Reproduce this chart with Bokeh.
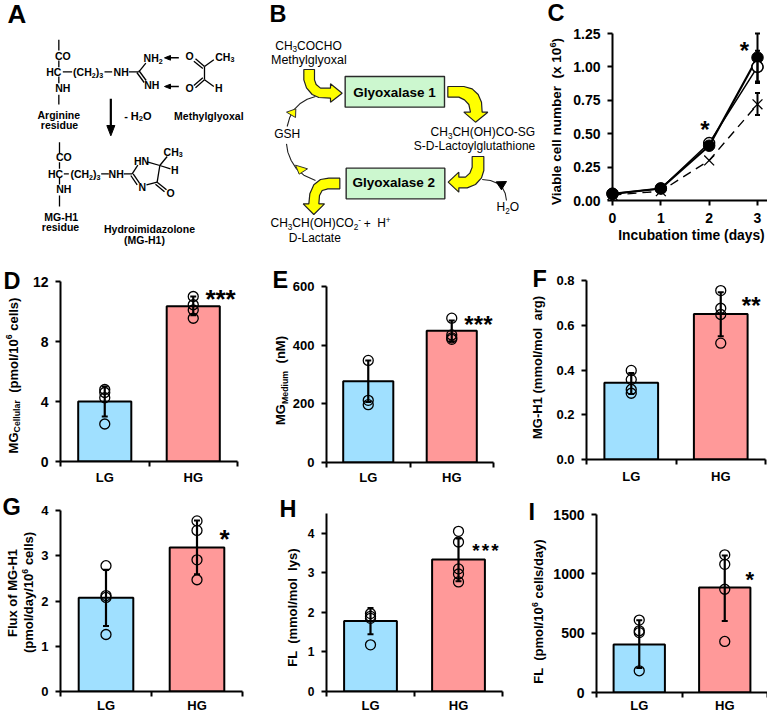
from math import pi
from bokeh.plotting import figure
from bokeh.models import (Range1d, Label, FixedTicker, NumeralTickFormatter, Whisker,
                          ColumnDataSource, TeeHead)
from bokeh.embed import file_html
from bokeh.resources import INLINE

FONT = "Liberation Sans"
BLUE = "#A0E0FF"
PINK = "#FF9999"
GREEN = "#CCF7CF"
YELLOW = "#FFFF00"

# ---------- data: bar panels ----------
groups = ["LG", "HG"]
d_means = [4.0, 10.35]; d_upper = [5.0, 11.0]; d_lower = [3.0, 9.75]
d_lg = [4.8, 4.6, 4.25, 2.5]; d_hg = [11.0, 10.45, 10.1, 9.55]
e_means = [277, 449]; e_upper = [348, 484]; e_lower = [206, 413]
e_lg = [348, 212, 197]; e_hg = [492, 435, 425, 420]
f_means = [0.343, 0.65]; f_upper = [0.387, 0.748]; f_lower = [0.293, 0.551]
f_lg = [0.398, 0.357, 0.313, 0.296]; f_hg = [0.755, 0.676, 0.648, 0.52]
g_means = [2.07, 3.18]; g_upper = [2.69, 3.78]; g_lower = [1.45, 2.59]
g_lg = [2.78, 2.12, 2.08, 1.26]; g_hg = [3.77, 3.56, 2.91, 2.47]
h_means = [1.78, 3.34]; h_upper = [2.11, 3.87]; h_lower = [1.45, 2.79]
h_lg = [1.97, 1.9, 1.85, 1.18]; h_hg = [4.05, 3.78, 3.1, 2.97, 2.77]
i_means = [405, 885]; i_upper = [608, 1155]; i_lower = [207, 603]
i_lg = [610, 520, 505, 183]; i_hg = [1160, 1080, 870, 430]

# ---------- data: panel C ----------
days = [0, 1, 2, 3]
filled_cells = [0.05, 0.09, 0.41, 1.07]
open_cells = [0.05, 0.09, 0.43, 1.0]
cross_cells = [0.04, 0.07, 0.30, 0.72]
err_upper_c = [1.25, 1.12, 0.805]
err_lower_c = [0.89, 0.88, 0.64]
err_x_c = [3, 3, 3]

# ---------- text metrics (Arial-compatible advance widths) ----------
REG = dict(zip("ABCDEFGHIJKLMNOPQRSTUVWXYZ", [.667,.667,.722,.722,.667,.611,.778,.722,.278,.5,.667,.556,.833,.722,.778,.667,.778,.722,.667,.611,.722,.667,.944,.667,.667,.611]))
REG.update(zip("abcdefghijklmnopqrstuvwxyz", [.556,.556,.5,.556,.556,.278,.556,.556,.222,.222,.5,.222,.833,.556,.556,.556,.556,.333,.5,.278,.556,.5,.722,.5,.5,.5]))
BLD = dict(zip("ABCDEFGHIJKLMNOPQRSTUVWXYZ", [.722,.722,.722,.722,.667,.611,.778,.722,.278,.556,.722,.611,.833,.722,.778,.667,.778,.722,.667,.611,.722,.667,.944,.667,.667,.611]))
BLD.update(zip("abcdefghijklmnopqrstuvwxyz", [.556,.611,.556,.611,.556,.333,.611,.611,.278,.278,.556,.278,.889,.611,.611,.611,.611,.389,.556,.333,.611,.556,.778,.556,.556,.5]))
for t in (REG, BLD):
    t.update({" ": .278, "(": .333, ")": .333, "-": .333, "/": .278, ".": .278, "+": .584})


def width(s, size, bold):
    t = BLD if bold else REG
    return sum(t.get(c, .556) for c in s) * size


def panel(fx, fy, fw, fh, L, T, R, B, xr, yr, **kw):
    """Figure at page box (fx,fy,fw,fh) whose plot frame occupies page box L,T,R,B."""
    p = figure(width=fw, height=fh, output_backend="svg", toolbar_location=None,
               x_range=Range1d(*xr), y_range=Range1d(*yr),
               min_border_left=int(round(L - fx)), min_border_right=int(round(fx + fw - R)),
               min_border_top=int(round(T - fy)), min_border_bottom=int(round(fy + fh - B)),
               outline_line_color=None, background_fill_color=None, border_fill_color=None,
               styles={"position": "absolute", "left": f"{fx}px", "top": f"{fy}px"}, **kw)
    p.grid.visible = False
    return p


# Transparent full-page layer: schemes A and B and every free text live here, in page pixels.
ov = panel(0, 0, 767, 713, 0, 0, 767, 713, (0, 767), (713, 0),
           x_axis_location=None, y_axis_location=None)

MID = .36   # distance from an em-centred text's middle to its baseline, in em


def rich(x, y, pieces, size=13, bold=True, align="left", vertical=False):
    """Text on a baseline at page position (x, y); pieces may be sub- or superscripted."""
    if isinstance(pieces, str):
        pieces = [pieces]
    parts = [(q, "") if isinstance(q, str) else q for q in pieces]
    sizes = [size * .68 if k else size for _, k in parts]
    total = sum(width(s, z, bold) for (s, _), z in zip(parts, sizes))
    off = {"left": 0, "center": -total / 2, "right": -total}[align]
    for (s, k), z in zip(parts, sizes):
        shift = {"": 0, "sub": .2 * size, "sup": -.42 * size}[k] - MID * z
        body = s.strip(" ")
        lead = width(s[:len(s) - len(s.lstrip(" "))], z, bold)
        if vertical:
            lx, ly = x + shift, y - off - lead
        else:
            lx, ly = x + off + lead, y + shift
        ov.add_layout(Label(x=lx, y=ly, text=body.replace("  ", " \u00a0"),
                            text_font=FONT, text_font_size=f"{z:.1f}px",
                            text_font_style="bold" if bold else "normal", text_color="black",
                            text_align="left", text_baseline="middle",
                            angle=pi / 2 if vertical else 0))
        off += width(s, z, bold)


def stars(cx, cy, n, size, pitch=0.0, bold=True):
    for k in range(n):
        sx = cx + (k - (n - 1) / 2) * pitch
        ov.add_layout(Label(x=sx, y=cy + .16 * size, text="*",
                            text_font=FONT, text_font_size=f"{size}px", text_color="black",
                            text_font_style="bold" if bold else "normal",
                            text_align="center", text_baseline="middle"))


def letter(x, y, s, size=23.5):
    rich(x, y, s, size=size, bold=True)


def style_axes(p, lab_size, xlab_size):
    for ax in (p.xaxis[0], p.yaxis[0]):
        ax.axis_line_width = 2
        ax.axis_line_color = "black"
        ax.major_tick_line_width = 2
        ax.major_tick_line_color = "black"
        ax.minor_tick_line_color = None
        ax.major_tick_in = 0
        ax.major_tick_out = 5
        ax.major_label_text_font = FONT
        ax.major_label_text_font_style = "bold"
        ax.major_label_text_color = "black"
        ax.major_label_standoff = 7
    p.yaxis[0].major_label_text_font_size = f"{lab_size}px"
    p.xaxis[0].major_label_text_font_size = f"{xlab_size}px"


def bar_panel(box, frame, ymax, ticks, fmt, means, upper, lower, lg, hg, lab_size=14, lab_y=482):
    L, T, R, B = frame
    p = panel(*box, L, T, R, B, (0, 2), (0, ymax))
    p.vbar(x=[.5, 1.5], top=means, bottom=0, width=.6, fill_color=[BLUE, PINK],
           line_color="black", line_width=2)
    src = ColumnDataSource(dict(x=[.5, 1.5], up=upper, lo=lower))
    p.add_layout(Whisker(source=src, base="x", upper="up", lower="lo", dimension="height",
                         line_color="black", line_width=2.2, level="glyph",
                         upper_head=TeeHead(size=6, line_width=2, line_color="black"),
                         lower_head=TeeHead(size=6, line_width=2, line_color="black")))
    for xc, pts in ((.5, lg), (1.5, hg)):
        p.scatter(x=[xc] * len(pts), y=pts, marker="circle", size=10, fill_alpha=0,
                  line_color="black", line_width=1.3)
    style_axes(p, lab_size, 13)
    p.yaxis[0].ticker = FixedTicker(ticks=ticks)
    p.yaxis[0].formatter = NumeralTickFormatter(format=fmt)
    xa = p.xaxis[0]
    xa.ticker = FixedTicker(ticks=[], minor_ticks=[0, 1, 2])
    xa.major_label_standoff = 0
    xa.major_tick_out = 0
    xa.major_tick_line_color = None
    xa.minor_tick_line_color = "black"
    xa.minor_tick_line_width = 2
    xa.minor_tick_out = 5
    xa.minor_tick_in = 0
    for k, name in enumerate(groups):
        rich(L + (R - L) * (k * .5 + .25), lab_y, name, size=13, align="center")
    return p


# ---------- panel A : structural scheme (lists hold coordinates on a 3x grid of the page) ----------
def ztext(ox, oy, zx, zy, pieces, size, bold=True, align="center"):
    rich(ox + zx / 3, oy + zy / 3 + .36 * size, pieces, size=size, bold=bold, align=align)


a_bonds = [(175, 118, 175, 150), (175, 180, 175, 200), (175, 228, 175, 248), (175, 283, 175, 312),
           (187, 214, 215, 214), (312, 214, 335, 214), (385, 214, 415, 214),
           (415, 214, 436, 188), (415, 210, 437, 240), (409, 216, 431, 246),
           (585, 175, 612, 198), (580, 182, 607, 204), (612, 198, 640, 178), (612, 198, 612, 238),
           (585, 262, 612, 238), (580, 255, 607, 232), (612, 238, 640, 258),
           (177, 425, 177, 458), (177, 485, 177, 505), (177, 532, 177, 552), (177, 585, 177, 618),
           (190, 520, 205, 520), (302, 520, 325, 520), (370, 520, 395, 520),
           (395, 520, 412, 494), (398, 520, 417, 548), (391, 525, 410, 553),
           (440, 484, 478, 495), (478, 495, 470, 545), (438, 553, 470, 545),
           (478, 495, 500, 468), (478, 495, 510, 505), (470, 545, 498, 568), (465, 551, 492, 574)]
ov.segment(x0=[b[0] / 3 for b in a_bonds], y0=[b[1] / 3 for b in a_bonds],
           x1=[b[2] / 3 for b in a_bonds], y1=[b[3] / 3 for b in a_bonds],
           line_color="black", line_width=1.3)
a_shafts = [(535, 172, 508, 172), (535, 258, 508, 258)]
ov.segment(x0=[b[0] / 3 for b in a_shafts], y0=[b[1] / 3 for b in a_shafts],
           x1=[b[2] / 3 for b in a_shafts], y1=[b[3] / 3 for b in a_shafts],
           line_color="black", line_width=1.5)
ov.line(x=[331 / 3, 331 / 3], y=[295 / 3, 382 / 3], line_color="black", line_width=2.2)
a_heads_x = [[510, 510, 492], [510, 510, 492], [319, 343, 331]]
a_heads_y = [[165, 179, 172], [251, 265, 258], [375, 375, 406]]
ov.patches(xs=[[v / 3 for v in h] for h in a_heads_x], ys=[[v / 3 for v in h] for h in a_heads_y],
           fill_color="black", line_color="black")
AT = 10.5
a_texts = [(187, 165, "CO"), (160, 213, "HC"), (187, 262, "NH"), (362, 213, "NH"),
           (454, 253, "NH"), (567, 167, "O"), (567, 263, "O"), (655, 262, "H"),
           (190, 470, "CO"), (165, 520, "HC"), (190, 566, "NH"), (347, 520, "NH"),
           (423, 480, "HN"), (425, 558, "N"), (523, 507, "H"), (510, 577, "O"),
           (175, 342, "Arginine"), (177, 374, "residue"), (625, 347, "Methylglyoxal"),
           (182, 648, "MG-H1"), (180, 680, "residue"), (447, 686, "Hydroimidazolone"),
           (432, 718, "(MG-H1)")]
for zx, zy, s in a_texts:
    ztext(0, 0, zx, zy, s, AT)
ztext(0, 0, 263, 214, ["(CH", ("2", "sub"), ")", ("3", "sub")], AT)
ztext(0, 0, 255, 520, ["(CH", ("2", "sub"), ")", ("3", "sub")], AT)
ztext(0, 0, 458, 172, ["NH", ("2", "sub")], AT)
ztext(0, 0, 673, 168, ["CH", ("3", "sub")], AT)
ztext(0, 0, 518, 453, ["CH", ("3", "sub")], AT)
ztext(0, 0, 412, 345, ["- H", ("2", "sub"), "O"], AT + .5)
letter(7, 23, "A", 26)


# ---------- panel B : pathway scheme ----------
def bx(vals):
    return [250 + v / 3 for v in vals]


def by(vals):
    return [v / 3 for v in vals]


arc1_x = [195, 170, 148, 130, 118, 110]; arc1_y = [288, 296, 310, 328, 350, 378]
arc2_x = [108, 112, 122, 138, 160, 195]; arc2_y = [430, 455, 480, 505, 524, 540]
arc3_x = [768, 764, 755, 740, 720, 695]; arc3_y = [600, 578, 560, 548, 540, 537]
for ax_, ay_ in ((arc1_x, arc1_y), (arc2_x, arc2_y), (arc3_x, arc3_y)):
    ov.line(x=bx(ax_), y=by(ay_), line_color="#222222", line_width=1.1)
ov.patch(x=bx([108, 136, 135]), y=by([335, 325, 351]), fill_color=YELLOW, line_color="#333333", line_width=1)
ov.patch(x=bx([135, 171, 146]), y=by([494, 505, 521]), fill_color=YELLOW, line_color="#333333", line_width=1)
ov.patch(x=bx([737, 768, 753]), y=by([544, 543, 568]), fill_color="black", line_color="black", line_width=1)

b_boxes_l = [284, 287]; b_boxes_r = [582, 583]; b_boxes_t = [228, 503]; b_boxes_b = [320, 595]
ov.quad(left=bx(b_boxes_l), right=bx(b_boxes_r), top=by(b_boxes_t), bottom=by(b_boxes_b),
        fill_color=GREEN, line_color="#2a2a2a", line_width=1.4)
arrow1x = [160, 192, 192, 197, 210, 240, 240, 275, 240, 240, 205, 185, 168, 160]
arrow1y = [207, 207, 238, 252, 263, 263, 250, 278, 305, 293, 291, 282, 262, 238]
arrow2x = [592, 640, 665, 683, 693, 695, 712, 675, 640, 660, 655, 642, 625, 592]
arrow2y = [258, 258, 265, 282, 305, 335, 335, 365, 335, 335, 312, 298, 290, 290]
arrow3x = [665, 700, 700, 693, 675, 650, 625, 625, 593, 625, 625, 645, 658, 665]
arrow3y = [468, 468, 510, 532, 552, 562, 562, 575, 545, 515, 530, 530, 518, 500]
arrow4x = [268, 268, 232, 215, 207, 205, 222, 190, 158, 175, 178, 190, 210, 235]
arrow4y = [533, 565, 565, 570, 585, 610, 610, 642, 610, 610, 580, 553, 537, 533]
for ax_, ay_ in ((arrow1x, arrow1y), (arrow2x, arrow2y), (arrow3x, arrow3y), (arrow4x, arrow4y)):
    ov.patch(x=bx(ax_), y=by(ay_), fill_color=YELLOW, line_color="#222222", line_width=1.2)

ztext(250, 0, 432, 275, "Glyoxalase 1", 13.5)
ztext(250, 0, 430, 547, "Glyoxalase 2", 13.5)
BT = 12
ztext(250, 0, 174, 135, ["CH", ("3", "sub"), "COCHO"], BT, bold=False)
ztext(250, 0, 175, 178, "Methylglyoxal", BT + .5, bold=False)
ztext(250, 0, 110, 400, "GSH", BT, bold=False)
ztext(250, 0, 697, 395, ["CH", ("3", "sub"), "CH(OH)CO-SG"], BT, bold=False)
ztext(250, 0, 490, 435, "S-D-Lactoylglutathione", BT, bold=False, align="left")
ztext(250, 0, 772, 620, ["H", ("2", "sub"), "O"], BT, bold=False)
ztext(250, 0, 60, 668, ["CH", ("3", "sub"), "CH(OH)CO", ("2", "sub"), ("-", "sup")], BT, bold=False, align="left")
ztext(250, 0, 350, 670, "+", BT, bold=False)
ztext(250, 0, 380, 668, ["H", ("+", "sup")], BT, bold=False, align="left")
ztext(250, 0, 193, 712, "D-Lactate", BT, bold=False)
letter(269, 22, "B")

# ---------- panel C : growth curves (axes figure + unclipped marks figure on the same scales) ----------
CX = (757 - 612) / 3
CY = (200 - 33) / 1.25
pc = panel(545, 0, 222, 265, 612, 33, 767, 200, (0, 155 / CX), (0, 1.25))
style_axes(pc, 14, 14)
pc.xaxis[0].ticker = FixedTicker(ticks=days)
pc.yaxis[0].ticker = FixedTicker(ticks=[0, .25, .5, .75, 1, 1.25])
pc.yaxis[0].formatter = NumeralTickFormatter(format="0.00")

pm = panel(597, 15, 170, 195, 597, 15, 767, 210, ((597 - 612) / CX, 155 / CX), ((200 - 210) / CY, (200 - 15) / CY),
           x_axis_location=None, y_axis_location=None)
pm.line(x=days, y=cross_cells, line_color="black", line_width=1.4, line_dash="9 6")
pm.scatter(x=days, y=cross_cells, marker="x", size=14, line_color="black", line_width=1.3)
pm.line(x=days, y=open_cells, line_color="black", line_width=1.5)
pm.scatter(x=days, y=open_cells, marker="circle", size=11, fill_color="white", line_color="black", line_width=1.4)
pm.line(x=days, y=filled_cells, line_color="black", line_width=2.2)
pm.scatter(x=days, y=filled_cells, marker="circle", size=11.5, fill_color="black", line_color="black")
pm.scatter(x=days[3:], y=open_cells[3:], marker="circle", size=11, fill_color="white", line_color="black", line_width=1.4)
csrc = ColumnDataSource(dict(x=err_x_c, up=err_upper_c, lo=err_lower_c))
pm.add_layout(Whisker(source=csrc, base="x", upper="up", lower="lo", dimension="height",
                      line_color="black", line_width=2, level="glyph",
                      upper_head=TeeHead(size=5, line_width=2, line_color="black"),
                      lower_head=TeeHead(size=5, line_width=2, line_color="black")))
rich(561, 121, ["Viable cell number  (x 10", ("6", "sup"), ")"], size=13.5, align="center", vertical=True)
rich(691, 240, "Incubation time (days)", size=13.8, align="center")
stars(704.3, 125, 1, 24)
stars(744, 45.7, 1, 24)
letter(547, 21, "C")

# ---------- bar panels ----------
pd_ = bar_panel((0, 265, 260, 225), (60, 281, 237, 461), 12, [0, 4, 8, 12], "0", d_means, d_upper, d_lower, d_lg, d_hg)
rich(17.5, 375, ["MG", ("Cellular", "sub"), "  (pmol/10", ("6", "sup"), " cells)"], size=13, align="center", vertical=True)
stars(220, 294, 3, 26, 10)
letter(3, 289, "D")

pe = bar_panel((260, 265, 250, 225), (326, 286, 493, 462), 600, [0, 200, 400, 600], "0", e_means, e_upper, e_lower, e_lg, e_hg, 13)
rich(285, 380, ["MG", ("Medium", "sub"), "  (nM)"], size=13, align="center", vertical=True)
stars(478, 320, 3, 24, 9.5)
letter(272, 288, "E")

pf = bar_panel((510, 265, 257, 225), (586, 280, 765, 459), .8, [0, .2, .4, .6, .8], "0.0", f_means, f_upper, f_lower, f_lg, f_hg, 13, 481)
rich(542, 367, "MG-H1 (mmol/mol  arg)", size=13, align="center", vertical=True)
stars(750.7, 301, 2, 24, 9.5)
letter(532, 287, "F")

pg = bar_panel((0, 490, 260, 223), (60, 510, 242, 691), 4, [0, 1, 2, 3, 4], "0", g_means, g_upper, g_lower, g_lg, g_hg, 13, 710)
rich(16.7, 592.5, "Flux of MG-H1", size=13, align="center", vertical=True)
rich(33, 592, ["(pmol/day/10", ("6", "sup"), " cells)"], size=13, align="center", vertical=True)
stars(224, 534, 1, 26)
letter(2, 515, "G")

ph = bar_panel((260, 490, 250, 223), (326, 513, 502, 691), 4.5, [0, 1, 2, 3, 4], "0", h_means, h_upper, h_lower, h_lg, h_hg, 12, 710)
rich(297, 607, "FL  (mmol/mol  lys)", size=13, align="center", vertical=True)
stars(485, 547.3, 3, 19, 9.5)
letter(279, 517, "H")

pi_ = bar_panel((510, 490, 257, 223), (596, 514, 767, 692), 1500, [0, 500, 1000, 1500], "0", i_means, i_upper, i_lower, i_lg, i_hg, 14, 710)
rich(543, 611, ["FL  (pmol/10", ("6", "sup"), " cells/day)"], size=13, align="center", vertical=True)
stars(749.3, 575, 1, 22)
letter(528, 520, "I")

roots = [pc, pm, pd_, pe, pf, pg, ph, pi_, ov]
open("out.html", "w").write(file_html(roots, INLINE))
